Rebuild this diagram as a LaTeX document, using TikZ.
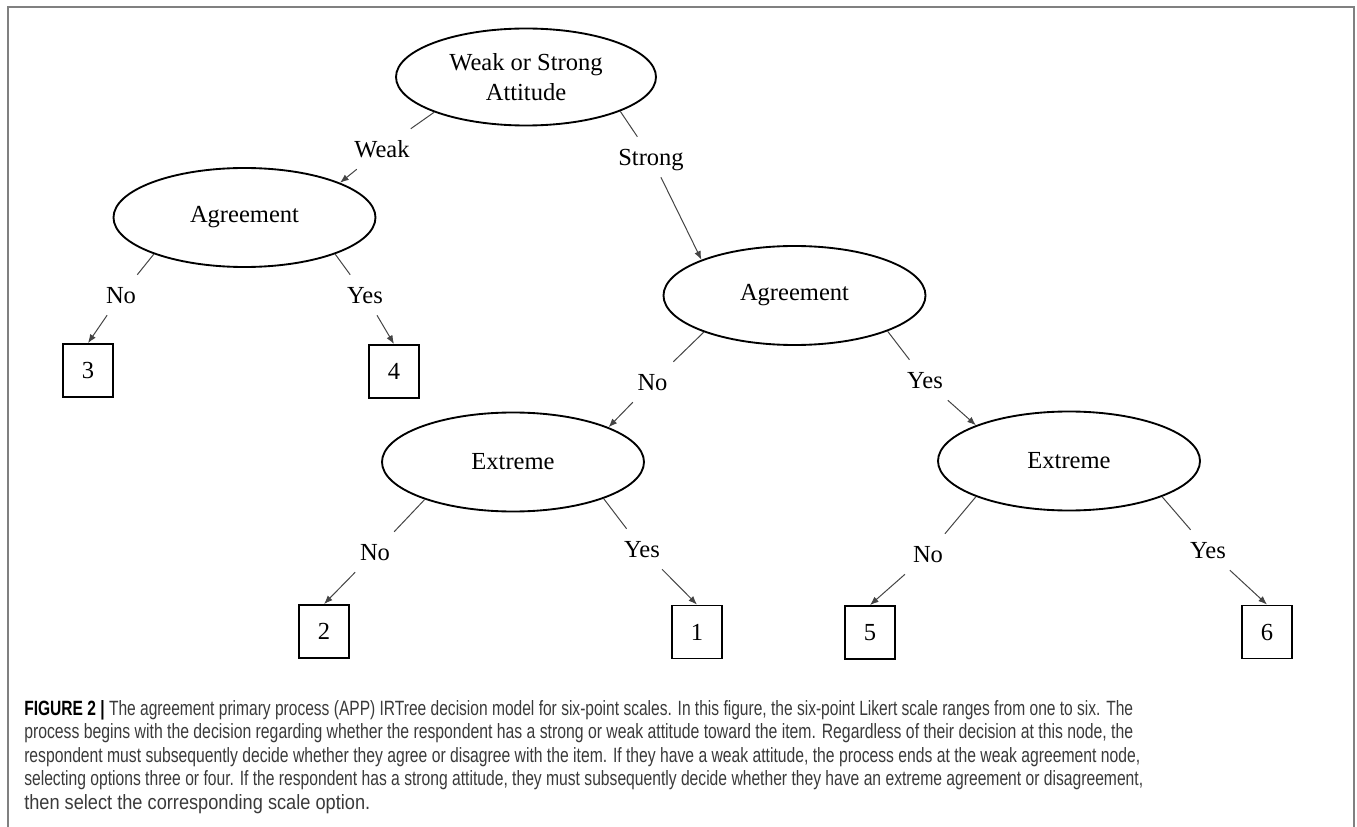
\documentclass[tikz,border=0pt]{standalone}
\usepackage{fontspec}
\setmainfont{Liberation Serif}
\newfontfamily\capfont{Liberation Sans}
\usetikzlibrary{shapes.geometric,arrows.meta}
\definecolor{framegray}{HTML}{808080}
\definecolor{capgray}{HTML}{3A3A3A}
\definecolor{edgegray}{HTML}{444444}
\begin{document}
\begin{tikzpicture}[x=0.75pt,y=-0.75pt,
  dec/.style={ellipse, draw=black, line width=1.4pt, minimum width=196.5pt, minimum height=74.25pt, inner sep=0pt, font=\fontsize{18.4}{22.5}\selectfont, align=center},
  leaf/.style={rectangle, draw=black, line width=1.4pt, minimum width=37.5pt, minimum height=39.75pt, inner sep=0pt, font=\fontsize{18.4}{22.5}\selectfont},
  lbl/.style={inner xsep=7pt, inner ysep=0pt, text height=12.5pt, text depth=0pt, minimum height=30pt, font=\fontsize{18.4}{22.5}\selectfont},
  edge/.style={draw=edgegray, line width=0.75pt},
  arr/.style={edge, -{Latex[length=6.5pt,width=5pt]}},
  capl/.style={anchor=base west, inner sep=0pt, text=capgray, font=\capfont\fontsize{15.5}{18}\selectfont}
]
\useasboundingbox (0,0) rectangle (1357,827);
\draw[framegray, line width=1.5pt] (8,850) -- (8,7) -- (1354,7) -- (1354,850);

% decision nodes
\node[dec, minimum width=195pt, minimum height=72.75pt] (top) at (526,77) {Weak or Strong\\Attitude};
\node[dec] (agrL) at (244.5,217.5) {Agreement};
\node[dec] (agrR) at (794.5,295.5) {Agreement};
\node[dec] (extL) at (513,462) {Extreme};
\node[dec] (extR) at (1069,461) {Extreme};

% leaves
\node[leaf] (b3) at (88,370.5) {3};
\node[leaf] (b4) at (394,371.5) {4};
\node[leaf] (b2) at (324,631.5) {2};
\node[leaf] (b1) at (697,632) {1};
\node[leaf] (b5) at (870,632.5) {5};
\node[leaf] (b6) at (1267,632) {6};

% labels
\node[lbl] (lWeak) at (382,149) {Weak};
\node[lbl] (lStrong) at (651,157) {Strong};
\node[lbl] (lNo1) at (121,295) {No};
\node[lbl] (lYes1) at (365,295) {Yes};
\node[lbl] (lNo2) at (652.5,382) {No};
\node[lbl] (lYes2) at (925,380) {Yes};
\node[lbl] (lNo3) at (375,552) {No};
\node[lbl] (lYes3) at (642,549) {Yes};
\node[lbl] (lNo4) at (928,554) {No};
\node[lbl] (lYes4) at (1208,550) {Yes};

% connectors
\draw[edge] (top.201) -- (lWeak);
\draw[arr] (lWeak) -- (agrL.20);
\draw[edge] (top.340) -- (lStrong);
\draw[arr] (lStrong) -- (agrR.159);
\draw[edge] (agrL.202) -- (lNo1);
\draw[arr] (lNo1) -- (b3.north);
\draw[edge] (agrL.338) -- (lYes1);
\draw[arr] (lYes1) -- (b4.north);
\draw[edge] (agrR.202) -- (lNo2);
\draw[arr] (lNo2) -- (extL.20);
\draw[edge] (agrR.339) -- (lYes2);
\draw[arr] (lYes2) -- (extR.159);
\draw[edge] (extL.203) -- (lNo3);
\draw[arr] (lNo3) -- (b2.north);
\draw[edge] (extL.338) -- (lYes3);
\draw[arr] (lYes3) -- (b1.north);
\draw[edge] (extR.201) -- (lNo4);
\draw[arr] (lNo4) -- (b5.north);
\draw[edge] (extR.339) -- (lYes4);
\draw[arr] (lYes4) -- (b6.north);

% caption
\node[capl] (c1) at (24,715) {\resizebox{831.75pt}{\height}{\textcolor{black}{\textbf{FIGURE 2 |}} The agreement primary process (APP) IRTree decision model for six-point scales. In this figure, the six-point Likert scale ranges from one to six. The}};
\node[capl] (c2) at (24,738.5) {\resizebox{831.75pt}{\height}{process begins with the decision regarding whether the respondent has a strong or weak attitude toward the item. Regardless of their decision at this node, the}};
\node[capl] (c3) at (24,762) {\resizebox{837pt}{\height}{respondent must subsequently decide whether they agree or disagree with the item. If they have a weak attitude, the process ends at the weak agreement node,}};
\node[capl] (c4) at (24,785.5) {\resizebox{839.25pt}{\height}{selecting options three or four. If the respondent has a strong attitude, they must subsequently decide whether they have an extreme agreement or disagreement,}};
\node[capl] (c5) at (24,809) {\resizebox{259.5pt}{\height}{then select the corresponding scale option.}};
\end{tikzpicture}
\end{document}
